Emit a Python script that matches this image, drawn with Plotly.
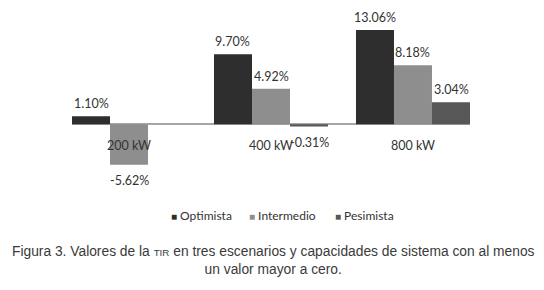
import plotly.graph_objects as go

categories = ["200 kW", "400 kW", "800 kW"]
optimista = [1.10, 9.70, 13.06]
intermedio = [-5.62, 4.92, 8.18]
pesimista = [None, -0.31, 3.04]
series_names = ["Optimista", "Intermedio", "Pesimista"]
colors = ["#2e2e2e", "#8e8e8e", "#575757"]

LABEL_FONT = dict(family="Lato, Open Sans, sans-serif", size=12.5, color="#333333")
BARGAP = 0.197
bar_w = (1 - BARGAP) / 3

fig = go.Figure()
all_series = [optimista, intermedio, pesimista]
for k, (name, vals, col) in enumerate(zip(series_names, all_series, colors)):
    fig.add_trace(go.Bar(
        x=list(range(len(categories))), y=vals, name=name,
        marker=dict(color=col, line=dict(width=0)), showlegend=False,
    ))
    off = (k - 1) * bar_w
    for i, v in enumerate(vals):
        if v is None:
            continue
        fig.add_annotation(x=i + off, y=v, xref="x", yref="y", text=f"{v:.2f}%",
                           showarrow=False, yanchor="middle",
                           yshift=12.5 if v >= 0 else -16, font=LABEL_FONT)

for i, c in enumerate(categories):
    fig.add_annotation(x=i, y=-2.9, xref="x", yref="y", text=c, showarrow=False,
                       font=LABEL_FONT, yanchor="middle")

# legend entries
legend_x = [0.2437, 0.4397, 0.6558]
for name, col, lx in zip(series_names, colors, legend_x):
    fig.add_annotation(
        x=lx, y=-0.199, xref="paper", yref="paper", xanchor="left", yanchor="middle",
        text=f"<span style='color:{col};font-size:10px'>■</span> {name}",
        showarrow=False, font=dict(family="Lato, Open Sans, sans-serif", size=12, color="#333333"),
    )

fig.add_annotation(
    x=0.5075, y=-0.47, xref="paper", yref="paper", xanchor="center", yanchor="middle",
    text="Figura 3. Valores de la <span style='font-size:9.8px'>TIR</span> en tres escenarios y capacidades de sistema con al menos<br>un valor mayor a cero.",
    showarrow=False, align="center",
    font=dict(family="Liberation Sans, Arial, sans-serif", size=13.8, color="#3a3a3a"),
)

fig.update_layout(
    width=536, height=282,
    margin=dict(l=64, r=74, t=8, b=108),
    plot_bgcolor="white", paper_bgcolor="white",
    barmode="group", bargap=BARGAP, bargroupgap=0,
    showlegend=False,
    xaxis=dict(range=[-0.5 + BARGAP / 2, len(categories) - 0.5 - BARGAP / 2],
               showticklabels=False, showline=False, showgrid=False, ticks="", zeroline=False),
    yaxis=dict(range=[-8, 15], showticklabels=False, showgrid=False,
               zeroline=True, zerolinecolor="#a6a6a6", zerolinewidth=1.5, showline=False),
)

fig.write_html("out.html")
